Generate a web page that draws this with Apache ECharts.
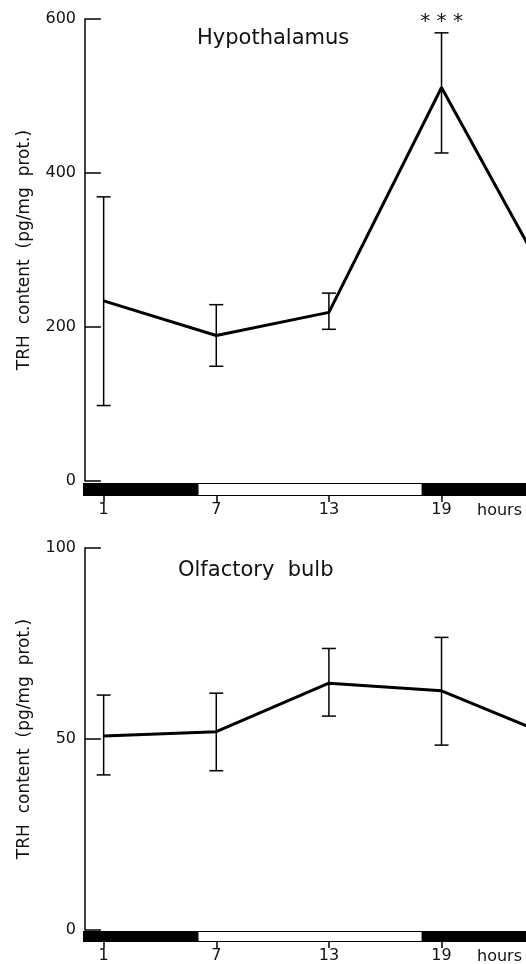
<!DOCTYPE html>
<html>
<head>
<meta charset="utf-8">
<script src="https://cdn.jsdelivr.net/npm/echarts@6/dist/echarts.min.js"></script>
<style>
  html, body { margin: 0; padding: 0; background: #fff; }
  #chart { width: 526px; height: 964px; }
</style>
</head>
<body>
<div id="chart"></div>
<script>
// sampling times (clock hours); 25 = 1 h of the next day, runs past the frame
const hours = [1, 7, 13, 19, 25];
const hourTicks = [1, 7, 13, 19];

// TRH content, pg/mg protein, mean and error-bar ends
const hypoMean = [234, 189, 219, 511, 245];
const hypoLow  = [98, 149, 197, 426];
const hypoHigh = [369, 229, 244, 582];
const hypoSig  = ['', '', '', '***'];

const olfMean = [50.8, 51.9, 64.6, 62.6, 50.5];
const olfLow  = [40.6, 41.7, 56.0, 48.4];
const olfHigh = [61.5, 62.0, 73.7, 76.6];
const olfSig  = ['', '', '', ''];

// light / dark schedule: [from, to, dark?]
const periods = [[-6, 6, 1], [6, 18, 0], [18, 30, 1]];

const FONT = 'DejaVu Sans';
const X_MIN = -0.1, X_MAX = 23.5;

const el = document.getElementById('chart');
const chart = echarts.init(el, null, { renderer: 'canvas' });

function errorBars(sig) {
  return (params, api) => {
    const x = api.value(0);
    const top = api.coord([x, api.value(2)]);
    const bot = api.coord([x, api.value(1)]);
    const w = 7;
    const style = { stroke: '#000', lineWidth: 1.5 };
    const children = [
      { type: 'line', shape: { x1: top[0], y1: top[1], x2: bot[0], y2: bot[1] }, style },
      { type: 'line', shape: { x1: top[0] - w, y1: top[1], x2: top[0] + w, y2: top[1] }, style },
      { type: 'line', shape: { x1: bot[0] - w, y1: bot[1], x2: bot[0] + w, y2: bot[1] }, style },
    ];
    const s = sig[params.dataIndex];
    if (s) {
      children.push({
        type: 'text', x: top[0], y: top[1] - 11,
        style: { text: s.split('').join(' '), align: 'center', verticalAlign: 'middle',
                 fontFamily: FONT, fontSize: 20, fill: '#111' },
      });
    }
    return { type: 'group', children };
  };
}

function periodBar(params, api) {
  const a = api.coord([api.value(0), 1]);
  const b = api.coord([api.value(1), 0]);
  const dark = api.value(2) === 1;
  return {
    type: 'rect',
    shape: { x: a[0], y: a[1], width: b[0] - a[0], height: b[1] - a[1] },
    style: { fill: dark ? '#000' : '#fff', stroke: '#000', lineWidth: 2 },
  };
}

const grids = [
  { left: 83, right: 0, top: 19, height: 462 },
  { left: 83, right: 0, top: 483, height: 13 },
  { left: 83, right: 0, top: 548, height: 382 },
  { left: 83, right: 0, top: 931, height: 13 },
];

const mainX = i => ({
  gridIndex: i, type: 'value', min: X_MIN, max: X_MAX,
  axisLine: { show: false }, axisTick: { show: false },
  axisLabel: { show: false }, splitLine: { show: false },
});

const barX = i => ({
  gridIndex: i, type: 'value', min: X_MIN, max: X_MAX,
  axisLine: { show: false },
  axisTick: { show: true, customValues: hourTicks, length: 6, lineStyle: { color: '#000', width: 1.5 } },
  axisLabel: { customValues: hourTicks, color: '#111', fontFamily: FONT, fontSize: 16, margin: 6 },
  splitLine: { show: false },
});

const mainY = (i, max, interval) => ({
  gridIndex: i, type: 'value', min: 0, max, interval,
  name: 'TRH  content  (pg/mg  prot.)',
  nameLocation: 'middle', nameRotate: 90, nameGap: 50,
  nameTextStyle: { color: '#111', fontFamily: FONT, fontSize: 17 },
  axisLine: { show: true, lineStyle: { color: '#000', width: 1.5 } },
  axisTick: { show: true, inside: true, length: 16, lineStyle: { color: '#000', width: 1.5 } },
  axisLabel: { color: '#111', fontFamily: FONT, fontSize: 16, margin: 7 },
  splitLine: { show: false },
});

const barY = i => ({
  gridIndex: i, type: 'value', min: 0, max: 1, show: false,
});

const lineSeries = (i, mean) => ({
  type: 'line', xAxisIndex: i, yAxisIndex: i,
  data: hours.map((h, k) => [h, mean[k]]),
  showSymbol: false, clip: true,
  lineStyle: { color: '#000', width: 3 },
  z: 3,
});

const errSeries = (i, low, high, sig) => ({
  type: 'custom', xAxisIndex: i, yAxisIndex: i,
  data: low.map((l, k) => [hours[k], l, high[k]]),
  renderItem: errorBars(sig), clip: false, z: 2,
});

const periodSeries = i => ({
  type: 'custom', xAxisIndex: i, yAxisIndex: i,
  data: periods, renderItem: periodBar, clip: true,
});

chart.setOption({
  animation: false,
  backgroundColor: '#fff',
  title: [
    { text: 'Hypothalamus', left: 192, top: 23,
      textStyle: { color: '#111', fontFamily: FONT, fontSize: 21, fontWeight: 'normal' } },
    { text: 'Olfactory  bulb', left: 173, top: 555,
      textStyle: { color: '#111', fontFamily: FONT, fontSize: 21, fontWeight: 'normal' } },
  ],
  graphic: [
    { type: 'text', left: 477, top: 503,
      style: { text: 'hours', fill: '#111', fontFamily: FONT, fontSize: 16 } },
    { type: 'text', left: 477, top: 949,
      style: { text: 'hours', fill: '#111', fontFamily: FONT, fontSize: 16 } },
  ],
  grid: grids,
  xAxis: [mainX(0), barX(1), mainX(2), barX(3)],
  yAxis: [mainY(0, 600, 200), barY(1), mainY(2, 100, 50), barY(3)],
  series: [
    lineSeries(0, hypoMean),
    errSeries(0, hypoLow, hypoHigh, hypoSig),
    periodSeries(1),
    lineSeries(2, olfMean),
    errSeries(2, olfLow, olfHigh, olfSig),
    periodSeries(3),
  ],
});
</script>
</body>
</html>
